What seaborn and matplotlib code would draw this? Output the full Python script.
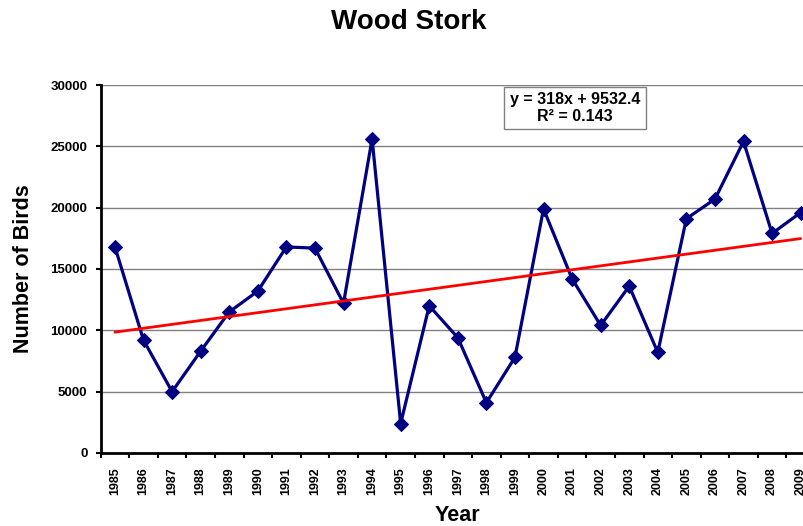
"""
Wood Stork counts per year with a linear trend line (Excel-style chart).
"""

import matplotlib
matplotlib.use("Agg")
import matplotlib.pyplot as plt
import seaborn as sns
import pandas as pd

YEARS = [1985, 1986, 1987, 1988, 1989, 1990, 1991, 1992, 1993, 1994,
         1995, 1996, 1997, 1998, 1999, 2000, 2001, 2002, 2003, 2004,
         2005, 2006, 2007, 2008, 2009]
BIRDS = [16800, 9200, 5000, 8300, 11500, 13200, 16800, 16700, 12200, 25600,
         2400, 12000, 9400, 4100, 7800, 19900, 14200, 10400, 13600, 8200,
         19100, 20700, 25400, 17900, 19600]

# trend line as printed on the chart (x = 1, 2, ... per category)
SLOPE = 318
INTERCEPT = 9532.4
R2 = 0.143

LINE_COLOR = "#000080"
TREND_COLOR = "#FF0000"

sns.set_style("white")
plt.rcParams["font.family"] = ["Liberation Sans", "DejaVu Sans"]
plt.rcParams["text.color"] = "black"
plt.rcParams["axes.labelcolor"] = "black"
plt.rcParams["xtick.color"] = "black"
plt.rcParams["ytick.color"] = "black"

df = pd.DataFrame({"pos": range(len(YEARS)), "year": YEARS, "birds": BIRDS})
df["trend"] = SLOPE * (df["pos"] + 1) + INTERCEPT

fig = plt.figure(figsize=(8.04, 5.26), dpi=100)
ax = fig.add_axes([0.1252, 0.1388, 0.8884, 0.6996])

ax.set_ylim(0, 30000)
ax.set_xlim(-0.5, len(YEARS) - 0.5)
ax.set_yticks(range(0, 30001, 5000))
ax.yaxis.grid(True, color="#808080", linewidth=1.0)
ax.set_axisbelow(True)

sns.lineplot(data=df, x="pos", y="birds", ax=ax, color=LINE_COLOR,
             linewidth=2.3, marker="D", markersize=7, markeredgecolor=LINE_COLOR,
             clip_on=False, zorder=3)
sns.lineplot(data=df, x="pos", y="trend", ax=ax, color=TREND_COLOR,
             linewidth=2.0, zorder=4)

# category labels at centres, tick marks on the boundaries
ax.set_xticks(df["pos"])
ax.set_xticklabels([str(y) for y in YEARS], rotation=90, fontsize=9, fontweight="bold")
ax.set_xticks([p - 0.5 for p in df["pos"]] + [len(YEARS) - 0.5], minor=True)
ax.tick_params(axis="x", which="major", length=0, pad=10)
ax.tick_params(axis="x", which="minor", length=3.5, width=1.5, color="black",
               direction="out", bottom=True)
ax.tick_params(axis="y", length=3.5, width=1.5, color="black", direction="out",
               left=True, pad=6)
for lab in ax.get_yticklabels():
    lab.set_fontsize(9.5)
    lab.set_fontweight("bold")

for side in ["top", "right"]:
    ax.spines[side].set_visible(False)
for side in ["left", "bottom"]:
    ax.spines[side].set_color("black")
    ax.spines[side].set_linewidth(2.0)

ax.set_xlabel("Year", fontsize=15.5, fontweight="bold")
ax.set_ylabel("Number of Birds", fontsize=15.5, fontweight="bold")
ax.xaxis.set_label_coords(0.5, -0.141)
ax.yaxis.set_label_coords(-0.093, 0.5)

ax.text(0.664, 0.9375, f"y = {SLOPE}x + {INTERCEPT}\nR² = {R2}",
        transform=ax.transAxes, ha="center", va="center", fontsize=11.5,
        fontweight="bold", linespacing=1.1,
        bbox=dict(boxstyle="square,pad=0.35", facecolor="white", edgecolor="#808080",
                  linewidth=1.0), zorder=5)

fig.text(0.508, 0.958, "Wood Stork", ha="center", va="center",
         fontsize=20, fontweight="bold")

fig.savefig("out.png", dpi=100)
